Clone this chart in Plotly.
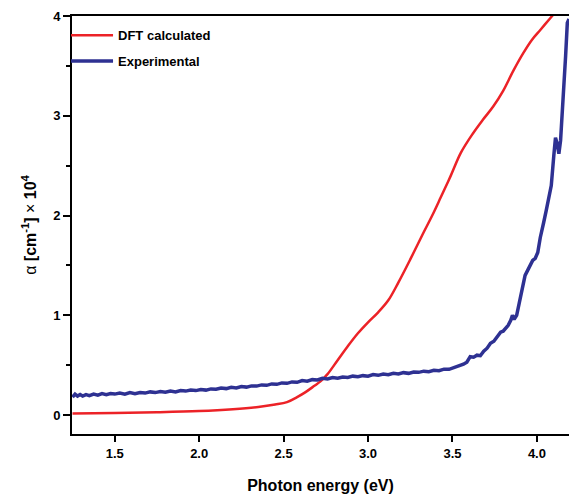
import plotly.graph_objects as go

# DFT calculated curve
dft_x = [1.25, 1.5, 1.75, 2.0, 2.2, 2.35, 2.45, 2.52, 2.58, 2.63, 2.68, 2.72, 2.76, 2.82, 2.88,
         2.94, 3.0, 3.06, 3.12, 3.18, 3.25, 3.32, 3.38, 3.43, 3.49, 3.55, 3.62, 3.68, 3.74, 3.80,
         3.86, 3.92, 3.97, 4.02, 4.08, 4.12]
dft_y = [0.015, 0.02, 0.028, 0.04, 0.058, 0.08, 0.105, 0.13, 0.18, 0.23, 0.29, 0.34, 0.41, 0.55, 0.69,
         0.82, 0.93, 1.03, 1.15, 1.33, 1.56, 1.80, 2.00, 2.18, 2.40, 2.63, 2.82, 2.96, 3.09, 3.25,
         3.45, 3.63, 3.76, 3.86, 3.98, 4.06]

# Experimental curve
exp_x = [1.250, 1.265, 1.280, 1.295, 1.310, 1.330, 1.350, 1.375, 1.400, 1.425, 1.450, 1.475, 1.500,
         1.530, 1.560, 1.590, 1.620, 1.650, 1.680, 1.710, 1.740, 1.770, 1.800, 1.830, 1.860, 1.890,
         1.920, 1.950, 1.980, 2.010, 2.040, 2.070, 2.100, 2.130, 2.160, 2.190, 2.220, 2.250, 2.280,
         2.310, 2.340, 2.370, 2.400, 2.430, 2.460, 2.490, 2.520, 2.550, 2.580, 2.610, 2.640, 2.670,
         2.700, 2.730, 2.760, 2.790, 2.820, 2.850, 2.880, 2.910, 2.940, 2.970, 3.000, 3.030, 3.060,
         3.090, 3.120, 3.150, 3.180, 3.210, 3.240, 3.270, 3.300, 3.330, 3.360, 3.390, 3.420, 3.450,
         3.480, 3.510, 3.540, 3.565, 3.585, 3.605, 3.625, 3.645, 3.665, 3.685, 3.705, 3.725, 3.745,
         3.765, 3.785, 3.800, 3.815, 3.830, 3.845, 3.855, 3.865, 3.880, 3.895, 3.905, 3.915, 3.930,
         3.945, 3.960, 3.975, 3.990, 4.005, 4.020, 4.030, 4.040, 4.055, 4.070, 4.085, 4.100, 4.110,
         4.120, 4.130, 4.140, 4.150, 4.160, 4.170, 4.180, 4.190]
exp_y = [0.18, 0.21, 0.19, 0.205, 0.19, 0.205, 0.195, 0.21, 0.20, 0.215, 0.205, 0.215, 0.21,
         0.22, 0.21, 0.225, 0.215, 0.225, 0.22, 0.232, 0.225, 0.235, 0.228, 0.24, 0.232, 0.245,
         0.24, 0.25, 0.245, 0.255, 0.25, 0.262, 0.258, 0.27, 0.265, 0.278, 0.272, 0.285, 0.28,
         0.292, 0.29, 0.302, 0.298, 0.312, 0.308, 0.322, 0.318, 0.332, 0.328, 0.345, 0.34, 0.355,
         0.352, 0.368, 0.362, 0.375, 0.37, 0.382, 0.376, 0.39, 0.385, 0.395, 0.39, 0.405, 0.398,
         0.412, 0.405, 0.418, 0.412, 0.425, 0.418, 0.432, 0.428, 0.44, 0.435, 0.448, 0.445, 0.46,
         0.458, 0.478, 0.49, 0.51, 0.53, 0.585, 0.58, 0.60, 0.595, 0.64, 0.67, 0.72, 0.74,
         0.79, 0.83, 0.84, 0.87, 0.90, 0.95, 1.00, 0.96, 1.00, 1.12, 1.20, 1.26, 1.40,
         1.45, 1.50, 1.55, 1.57, 1.63, 1.78, 1.88, 1.93, 2.05, 2.20, 2.30, 2.60, 2.78,
         2.72, 2.62, 2.75, 3.00, 3.25, 3.60, 3.93, 3.97]

x_ticks = [1.5, 2.0, 2.5, 3.0, 3.5, 4.0]
x_ticklabels = ["1.5", "2.0", "2.5", "3.0", "3.5", "4.0"]
y_ticks = [0, 1, 2, 3, 4]
y_ticklabels = ["0", "1", "2", "3", "4"]

FONT = "Arial, 'Liberation Sans', sans-serif"

fig = go.Figure()
fig.add_trace(go.Scatter(x=dft_x, y=dft_y, mode="lines", name="DFT calculated",
                         line=dict(color="#ec2227", width=2.5, shape="spline"),
                         legendgroup="a"))
fig.add_trace(go.Scatter(x=exp_x, y=exp_y, mode="lines", name="Experimental",
                         line=dict(color="#2e3192", width=3.5),
                         legendgroup="b"))

fig.update_layout(
    width=569, height=497,
    margin=dict(l=72, r=0, t=16, b=63),
    plot_bgcolor="white", paper_bgcolor="white",
    font=dict(family=FONT, size=13, color="black", weight="bold"),
    showlegend=True,
    legend=dict(x=-0.012, y=0.99, xanchor="left", yanchor="top", itemwidth=42,
                bgcolor="rgba(0,0,0,0)", tracegroupgap=6,
                font=dict(family=FONT, size=13, color="black", weight="bold")),
    xaxis=dict(range=[1.247, 4.19], tickvals=x_ticks, ticktext=x_ticklabels,
               ticks="outside", ticklen=6, tickwidth=2, tickcolor="black",
               showline=True, linecolor="black", linewidth=2, mirror=True,
               showgrid=False, zeroline=False,
               tickfont=dict(family=FONT, size=13, weight="bold"),
               title=dict(text="Photon energy (eV)", standoff=20,
                          font=dict(family=FONT, size=16, weight="bold"))),
    yaxis=dict(range=[-0.19, 4.0], tickvals=y_ticks, ticktext=y_ticklabels,
               ticks="outside", ticklen=7, tickwidth=2, tickcolor="black",
               minor=dict(dtick=0.5, tick0=0, ticks="outside", ticklen=4, tickwidth=2, tickcolor="black"),
               showline=True, linecolor="black", linewidth=2, mirror=False,
               showgrid=False, zeroline=False,
               tickfont=dict(family=FONT, size=13, weight="bold"),
               title=dict(text="<span style='font-weight:normal'>α</span> [cm<sup>-1</sup>] <span style='font-weight:normal'>×</span> 10<sup>4</sup>",
                          standoff=13,
                          font=dict(family=FONT, size=16, weight="bold"))),
)

# remove the browser's default page margin so the figure fills the window exactly
fig.write_html("out.html", config={"displayModeBar": False},
               post_script="document.body.style.margin='0';document.body.style.overflow='hidden';")
